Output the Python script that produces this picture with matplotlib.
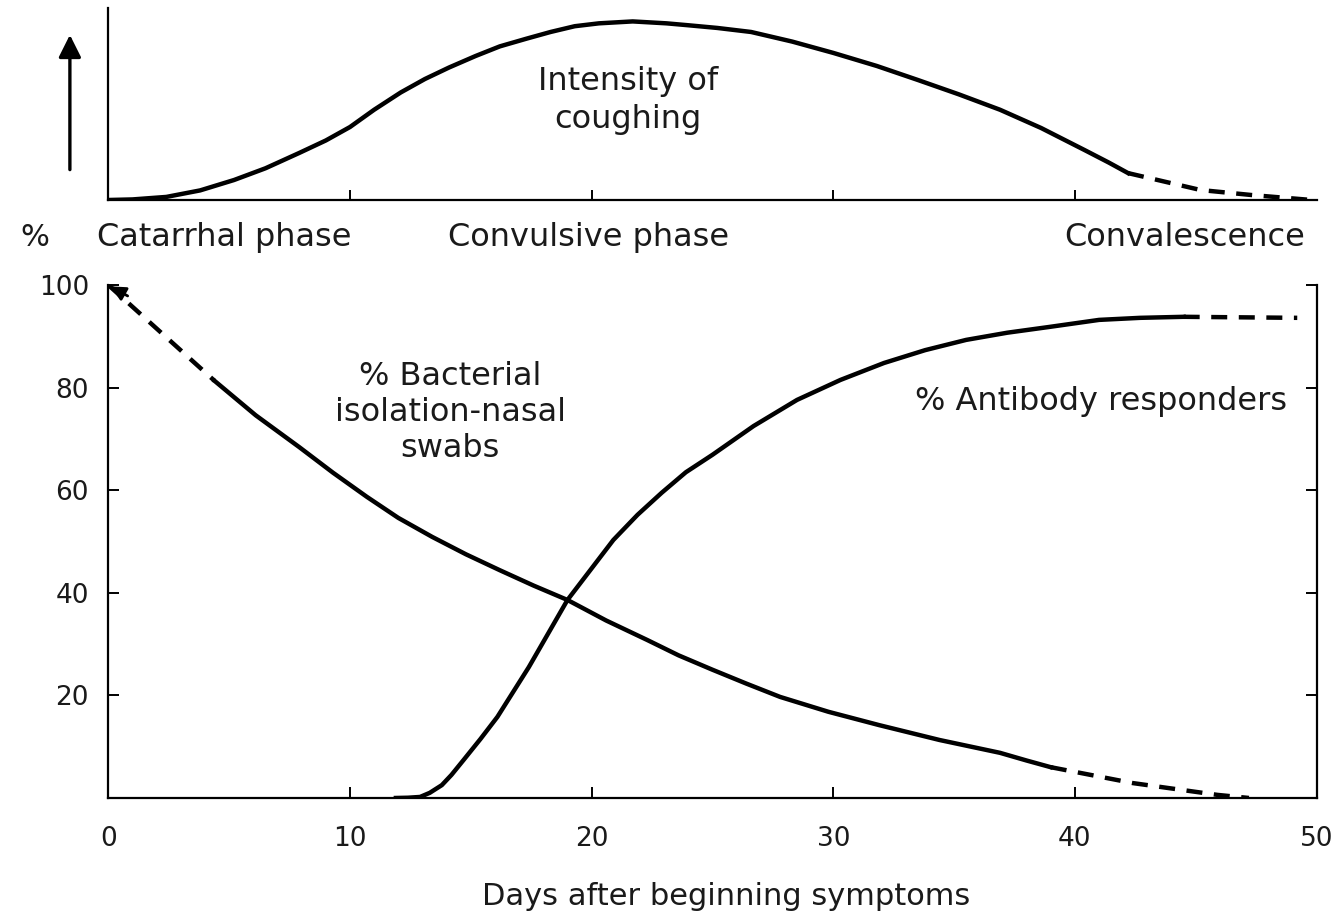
# pertussis course chart: coughing intensity, bacterial isolation, antibody response
import matplotlib
matplotlib.use("Agg")
import matplotlib.pyplot as plt

plt.rcParams['font.family'] = ['DejaVu Sans']

# intensity of coughing (arbitrary units 0-100)
cough_days = [0, 1, 2.4, 3.8, 5.2, 6.5, 7.9, 9.0, 10.0, 11.0, 12.1, 13.1, 14.1, 15.2, 16.2, 17.3,
              18.3, 19.3, 20.3, 21.7, 23.1, 24.0, 25.2, 26.6, 28.3, 30.0, 31.8, 33.5, 35.2,
              36.9, 38.6, 40.4, 41.4, 42.2]
cough_vals = [0, 0.3, 1.6, 5, 10.4, 16.5, 24.5, 31, 38, 47, 56, 63, 69, 75, 80, 84,
              87.5, 90.5, 92, 93, 92, 91, 89.6, 87.5, 82.5, 76.6, 69.8, 62.5, 55,
              47, 37.5, 26, 19.5, 14]
cough_dash_days = [42.2, 45.2, 47.3, 49.8]
cough_dash_vals = [14, 5.2, 2.6, 0]

# % bacterial isolation - nasal swabs
bact_dash_days = [0, 4.4]
bact_dash_vals = [100, 81.3]
bact_days = [4.4, 6.1, 7.9, 9.3, 10.7, 12.0, 13.4, 14.8, 16.2, 17.6, 19.0, 20.6, 22.3, 23.6,
             25.0, 26.4, 27.8, 29.8, 31.9, 34.4, 36.9, 38.0, 39.0]
bact_vals = [81.3, 74.6, 68.4, 63.4, 58.7, 54.6, 50.9, 47.5, 44.4, 41.4, 38.6, 34.6, 30.8, 27.8,
             25.0, 22.3, 19.7, 16.8, 14.2, 11.3, 8.8, 7.3, 6.0]
bact_end_days = [39.0, 42.4, 45.9, 47.2]
bact_end_vals = [6.0, 2.9, 0.6, 0]

# % antibody responders
anti_days = [11.9, 12.4, 12.9, 13.3, 13.8, 14.2, 14.7, 15.4, 16.1, 17.4, 19.0, 20.9, 21.9, 22.9,
             23.9, 25.0, 26.7, 28.5, 30.3, 32.1, 33.8, 35.5, 37.2, 38.9, 41.0, 42.7, 44.5]
anti_vals = [0, 0.05, 0.2, 1, 2.5, 4.5, 7.4, 11.5, 15.8, 25.5, 38.6, 50.3, 55.2, 59.5,
             63.5, 66.9, 72.5, 77.6, 81.5, 84.8, 87.3, 89.3, 90.7, 91.8, 93.2, 93.6, 93.8]
anti_dash_days = [44.5, 49.2]
anti_dash_vals = [93.8, 93.6]

x_ticks = [0, 10, 20, 30, 40, 50]
y_ticks = [20, 40, 60, 80, 100]
phases = ["Catarrhal phase", "Convulsive phase", "Convalescence"]

lw = 3.2
dash = (0, (3.6, 2.6))
txt = '#1a1a1a'
fs = 23

fig = plt.figure(figsize=(13.44, 9.17), dpi=100)

# top panel - coughing
ax_top = fig.add_axes([0.0806, 0.7819, 0.899, 0.2094])
ax_top.plot(cough_days, cough_vals, color='k', lw=lw, solid_joinstyle='round')
ax_top.plot(cough_dash_days, cough_dash_vals, color='k', lw=lw, linestyle=dash)
ax_top.set_xlim(0, 50)
ax_top.set_ylim(0, 100)
for s in ['top', 'right']:
    ax_top.spines[s].set_visible(False)
for s in ['left', 'bottom']:
    ax_top.spines[s].set_linewidth(1.6)
ax_top.set_xticks([10, 20, 30, 40])
ax_top.set_yticks([])
ax_top.tick_params(axis='x', direction='in', length=7, width=1.4, labelbottom=False)
ax_top.text(21.5, 52, "Intensity of\ncoughing", ha='center', va='center',
            fontsize=fs, linespacing=1.3, color=txt)

# arrow left of the top panel
fig.patches.append(matplotlib.patches.FancyArrowPatch(
    (0.052, 0.812), (0.052, 0.965), transform=fig.transFigure,
    arrowstyle='-|>', mutation_scale=34, lw=2.4, color='k'))

# phase labels between panels
fig.text(0.026, 0.7405, "%", ha='center', va='center', fontsize=fs - 1, color=txt)
fig.text(0.0722, 0.7405, phases[0], ha='left', va='center', fontsize=fs, color=txt)
fig.text(0.3333, 0.7405, phases[1], ha='left', va='center', fontsize=fs, color=txt)
fig.text(0.971, 0.7405, phases[2], ha='right', va='center', fontsize=fs, color=txt)

# bottom panel - bacteria and antibody
ax = fig.add_axes([0.0806, 0.1298, 0.899, 0.5594])
ax.plot(bact_dash_days, bact_dash_vals, color='k', lw=lw, linestyle=dash)
ax.plot(bact_days, bact_vals, color='k', lw=lw, solid_joinstyle='round')
ax.plot(bact_end_days, bact_end_vals, color='k', lw=lw, linestyle=dash)
ax.plot(anti_days, anti_vals, color='k', lw=lw, solid_joinstyle='round')
ax.plot(anti_dash_days, anti_dash_vals, color='k', lw=lw, linestyle=dash)
ax.annotate('', xy=(bact_dash_days[0], bact_dash_vals[0]),
            xytext=(bact_dash_days[0] + 0.9, bact_dash_vals[0] - 2.4),
            arrowprops=dict(arrowstyle='-|>', color='k', lw=2, mutation_scale=22),
            annotation_clip=False)

ax.set_xlim(0, 50)
ax.set_ylim(0, 100)
ax.spines['top'].set_visible(False)
for s in ['left', 'bottom', 'right']:
    ax.spines[s].set_linewidth(1.6)
ax.set_xticks(x_ticks)
ax.set_yticks(y_ticks)
ax.tick_params(axis='both', direction='in', length=8, width=1.4, labelsize=19,
               labelcolor=txt)
ax.tick_params(axis='x', pad=20)
ax.tick_params(axis='y', pad=14, right=True)

ax.text(14.15, 75.2, "% Bacterial\nisolation-nasal\nswabs", ha='center', va='center',
        fontsize=fs, linespacing=1.2, color=txt)
ax.text(41.1, 77.2, "% Antibody responders", ha='center', va='center',
        fontsize=fs, color=txt)

fig.text(0.5406, 0.022, "Days after beginning symptoms", ha='center', va='center',
         fontsize=fs - 1, color=txt)

fig.savefig("out.png", dpi=100)
